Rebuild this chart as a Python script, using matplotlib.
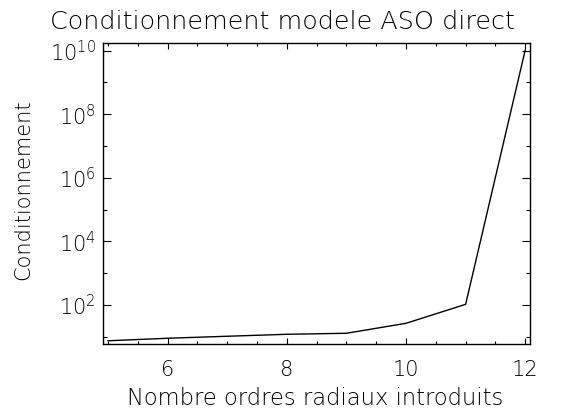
import matplotlib
matplotlib.use("Agg")
import matplotlib.pyplot as plt
from matplotlib.ticker import FixedLocator, FixedFormatter, NullFormatter

# Condition number of the direct ASO model vs number of radial orders
n_orders = [5, 6, 7, 8, 9, 10, 11, 12]
condition = [7.5, 9.0, 10.4, 12.0, 12.9, 26.6, 105.0, 1.05e10]

major_y = [1e2, 1e4, 1e6, 1e8, 1e10]
major_y_labels = [r"$10^{2}$", r"$10^{4}$", r"$10^{6}$", r"$10^{8}$", r"$10^{10}$"]
minor_y = [1e1, 1e3, 1e5, 1e7, 1e9]
major_x = [6, 8, 10, 12]
major_x_labels = ["6", "8", "10", "12"]
minor_x = [5, 5.5, 6.5, 7, 7.5, 8.5, 9, 9.5, 10.5, 11, 11.5]

plt.rcParams["font.family"] = ["DejaVu Sans"]
plt.rcParams["font.weight"] = 200
plt.rcParams["text.color"] = "black"
plt.rcParams["mathtext.fontset"] = "custom"
plt.rcParams["mathtext.rm"] = "DejaVu Sans:weight=200"
plt.rcParams["mathtext.it"] = "DejaVu Sans:weight=200"
plt.rcParams["mathtext.default"] = "rm"

W, H = 571, 411
fig = plt.figure(figsize=(W / 100, H / 100), dpi=100)
ax = fig.add_axes([102.7 / W, 1 - 344.3 / H, (530 - 102.7) / W, (344.3 - 42.7) / H])

ax.plot(n_orders, condition, color="black", lw=1.0)
ax.set_yscale("log")
ax.set_xlim(4.91, 12.08)
ax.set_ylim(10 ** 0.764, 10 ** 10.25)

ax.yaxis.set_major_locator(FixedLocator(major_y))
ax.yaxis.set_major_formatter(FixedFormatter(major_y_labels))
ax.yaxis.set_minor_locator(FixedLocator(minor_y))
ax.yaxis.set_minor_formatter(NullFormatter())
ax.xaxis.set_major_locator(FixedLocator(major_x))
ax.xaxis.set_major_formatter(FixedFormatter(major_x_labels))
ax.xaxis.set_minor_locator(FixedLocator(minor_x))
ax.xaxis.set_minor_formatter(NullFormatter())

for s in ax.spines.values():
    s.set_linewidth(1.0)

ax.tick_params(axis="both", which="both", direction="in", top=True, right=True,
               width=0.8, labelsize=15, labelcolor="black")
ax.tick_params(axis="x", which="major", length=4.5, pad=11)
ax.tick_params(axis="x", which="minor", length=2.4)
ax.tick_params(axis="y", which="major", length=5.8, pad=5)
ax.tick_params(axis="y", which="minor", length=3.2)

fig.text(282 / W, 1 - 22 / H, "Conditionnement modele ASO direct",
         ha="center", va="center", fontsize=18.3)
fig.text(315.5 / W, 1 - 398 / H, "Nombre ordres radiaux introduits",
         ha="center", va="center", fontsize=16.3)
fig.text(23 / W, 1 - 190 / H, "Conditionnement", rotation=90,
         ha="center", va="center", fontsize=15)

fig.savefig("out.png", dpi=100)
